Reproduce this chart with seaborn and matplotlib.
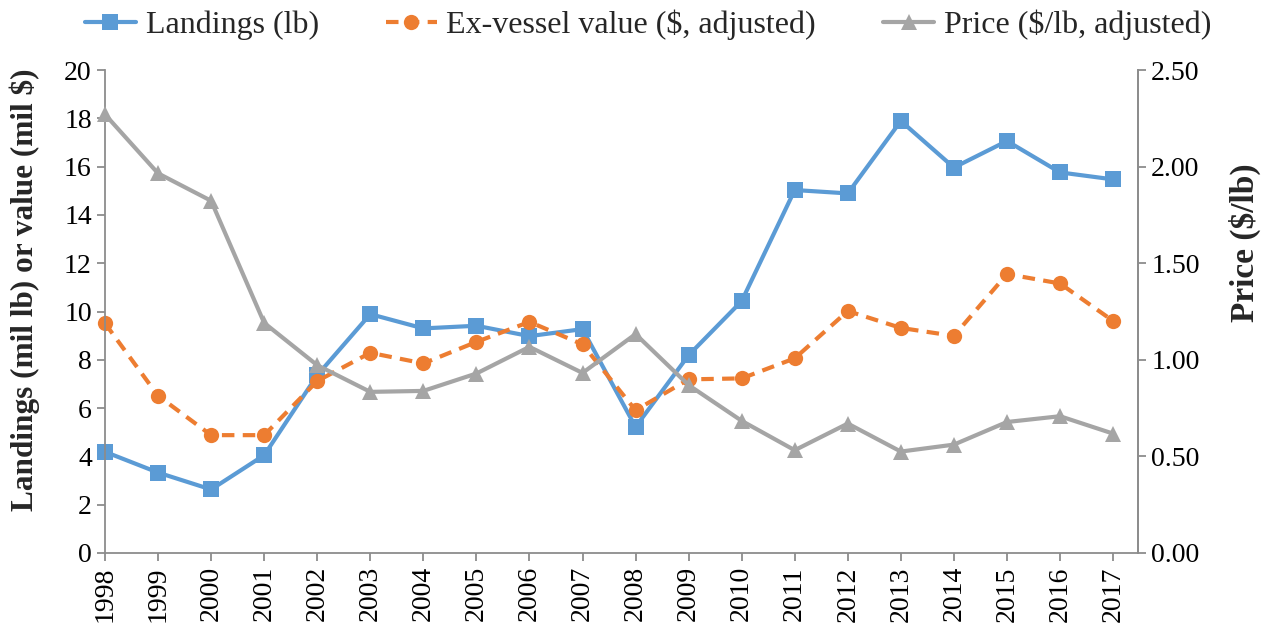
import matplotlib
matplotlib.use("Agg")
import matplotlib.pyplot as plt
import numpy as np
import pandas as pd
import seaborn as sns

years = list(range(1998, 2018))
landings = [4.19, 3.33, 2.63, 4.05, 7.36, 9.89, 9.30, 9.41, 8.98, 9.27,
            5.22, 8.19, 10.43, 15.03, 14.89, 17.89, 15.96, 17.06, 15.76, 15.47]
value = [9.51, 6.51, 4.88, 4.88, 7.12, 8.29, 7.85, 8.74, 9.57, 8.64,
         5.91, 7.19, 7.23, 8.06, 10.02, 9.32, 8.99, 11.55, 11.16, 9.61]
price = [2.27, 1.965, 1.823, 1.191, 0.972, 0.834, 0.839, 0.929, 1.067, 0.932,
         1.133, 0.869, 0.684, 0.532, 0.670, 0.525, 0.561, 0.678, 0.708, 0.618]

labels = ["Landings (lb)", "Ex-vessel value ($, adjusted)", "Price ($/lb, adjusted)"]
colors = ["#5B9BD5", "#ED7D31", "#A5A5A5"]

sns.set_style("ticks")
plt.rcParams["font.family"] = ["Liberation Serif", "DejaVu Serif"]

df = pd.DataFrame({"year": years, "landings": landings, "value": value, "price": price})

fig = plt.figure(figsize=(12.67, 6.37), dpi=100)
ax = fig.add_axes([105 / 1267, 1 - 553 / 637, (1138 - 105) / 1267, (553 - 70) / 637])
ax2 = ax.twinx()

sns.lineplot(data=df, x="year", y="landings", ax=ax, color=colors[0], lw=3,
             marker="s", markersize=11, markeredgewidth=0, label=labels[0], legend=False)
sns.lineplot(data=df, x="year", y="value", ax=ax, color=colors[1], lw=3,
             marker="o", markersize=11, markeredgewidth=0, label=labels[1], legend=False)
ax.lines[1].set_dashes([3, 2])
sns.lineplot(data=df, x="year", y="price", ax=ax2, color=colors[2], lw=3,
             marker="^", markersize=12, markeredgewidth=0, label=labels[2], legend=False)
for ln in ax.lines + ax2.lines:
    ln.set_clip_on(False)

ax.set_xlim(1998, 2017.47)
ax.set_ylim(0, 20)
ax2.set_ylim(0, 2.5)
ax.set_yticks(np.arange(0, 21, 2))
ax2.set_yticks(np.arange(0, 2.51, 0.5))
ax2.set_yticklabels([f"{v:.2f}" for v in np.arange(0, 2.51, 0.5)])
ax.set_xticks(years)
ax.set_xticklabels([str(y) for y in years], rotation=90)

ax.set_xlabel("")
ax.set_ylabel("Landings (mil lb) or value (mil $)", fontsize=22.5, fontweight="bold")
ax2.set_ylabel("Price ($/lb)", fontsize=24, fontweight="bold", rotation=90)
ax.yaxis.set_label_coords(-0.063, 0.545)
ax2.yaxis.set_label_coords(1.088, 0.642)

axis_col = "#8C8C8C"
for a in (ax, ax2):
    a.spines["top"].set_visible(False)
    for s in a.spines.values():
        s.set_color(axis_col)
        s.set_linewidth(1.3)
    a.tick_params(colors=axis_col, labelcolor="black", labelsize=20, width=1.3, length=6)
ax2.spines["left"].set_visible(False)
ax2.spines["bottom"].set_visible(False)

# legend above the plot, all three series in one row
handles = ax.lines[:2] + ax2.lines[:1]
fig.legend(handles, labels, loc="upper center", bbox_to_anchor=(0.5115, 1.03), ncol=3,
           frameon=False, fontsize=23, handlelength=1.6, columnspacing=2.1, handletextpad=0.3)

fig.savefig("out.png", dpi=100)
